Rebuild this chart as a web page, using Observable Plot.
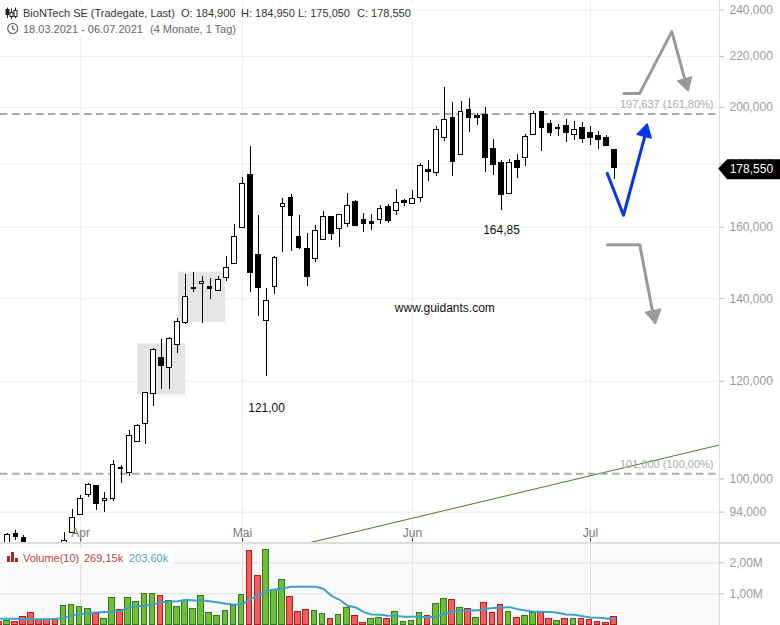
<!DOCTYPE html>
<html><head><meta charset="utf-8">
<script src="https://cdn.jsdelivr.net/npm/d3@7"></script>
<script src="https://cdn.jsdelivr.net/npm/@observablehq/plot@0.6"></script>
<style>
html,body{margin:0;padding:0;background:#fff;overflow:hidden}
#page{position:relative;width:780px;height:625px;font-family:"Liberation Sans",Arial,sans-serif}
#page svg{display:block}
#vol{border-top:2px solid #ddd;height:81px}
.h{position:absolute;font-size:11px;line-height:14px;white-space:pre;background:#fff}
.box{position:absolute;background:#fff}
</style></head><body>
<div id="page">
<div id="main"></div>
<div id="vol"></div>
<div class="box" style="left:0;top:5px;width:414px;height:16px"></div>
<div class="box" style="left:0;top:21px;width:240px;height:16px"></div>
<svg style="position:absolute;left:5px;top:7px" width="14" height="13" stroke="#222" fill="none">
<path d="M2.5 0.5V11M6.5 1.5V12M10.5 0.5V11"/><rect x="1" y="2.5" width="3" height="5" fill="#222"/><rect x="5" y="5.5" width="3" height="4" fill="#fff"/><rect x="9" y="3.5" width="3" height="6" fill="#fff"/></svg>
<svg style="position:absolute;left:6px;top:22px" width="14" height="14" stroke="#555" fill="none" stroke-width="1.1">
<circle cx="6.7" cy="6.5" r="5"/><path d="M6.7 3.2V6.7L9 8"/></svg>
<span class="h" style="left:23px;top:6px;color:#333">BioNTech SE (Tradegate, Last)</span>
<span class="h" style="left:181px;top:6px;color:#333">O: 184,900</span>
<span class="h" style="left:241px;top:6px;color:#333">H: 184,950</span>
<span class="h" style="left:298px;top:6px;color:#333">L: 175,050</span>
<span class="h" style="left:357px;top:6px;color:#333">C: 178,550</span>
<span class="h" style="left:23px;top:22px;color:#666">18.03.2021 - 06.07.2021</span>
<span class="h" style="left:150px;top:22px;color:#666">(4 Monate, 1 Tag)</span>
<div class="box" style="left:5px;top:548px;width:169px;height:17px;opacity:.85"></div>
<svg style="position:absolute;left:7px;top:552px" width="12" height="11" fill="#b22222"><rect x="0" y="4" width="3" height="6"/><rect x="4" y="0" width="3" height="10"/><rect x="8" y="6" width="3" height="4"/></svg>
<span class="h" style="left:23px;top:551px;color:#c43c3c;background:none">Volume(10)</span>
<span class="h" style="left:84px;top:551px;color:#c43c3c;background:none">269,15k</span>
<span class="h" style="left:129px;top:551px;color:#45a5cc;background:none">203,60k</span>
</div>
<script>
// session index 0 = 18.03.2021 ... 76 = 06.07.2021
const opens = [87,86,90.2,89.5,87,86,85.5,85,86,90.4,93.5,97.0,98.7,95.9,96.4,102.1,101.1,107.2,110.9,117.1,125.3,123.1,128.4,133.9,142.9,143.8,143.1,141.9,145.5,149.3,159.9,176.5,151.9,134.4,143.0,166.0,169.0,157.1,153.6,150.9,156.1,163.1,159.4,160.8,167.7,162.2,161.6,162.1,166.2,164.8,168.1,167.0,169.1,178.1,177.0,188.9,196.0,183.0,199.3,196.8,197.3,185.3,180.2,170.3,181.2,181.9,190.0,198.4,193.8,192.7,193.1,190.1,192.7,190.6,189.8,189.1,184.9];
const highs = [88,90.4,90.9,90.0,88,87,86.5,86,90.5,94.4,96.9,99.2,98.7,97.5,103.6,102.5,109.4,110.8,117.4,127.6,129.8,130.3,134.8,146.4,146.9,145.8,145.3,145.8,151.6,160.7,175.5,186.0,163.4,142.6,151.4,168.7,170.0,163.4,158.0,160.4,164.7,163.1,163.7,170.3,168.1,164.1,163.8,166.5,166.8,171.6,168.4,171.3,180.2,181.2,193.1,207.7,201.9,202.3,203.4,197.8,200.0,188.4,181.2,181.5,183.2,190.2,198.4,198.6,195.3,193.8,195.6,194.9,194.5,193.1,191.3,189.8,184.95];
const lows = [85,85,89.2,86,85,84.5,84,83.5,85.5,90.4,93.5,96.6,94.2,94.0,95.8,99.1,100.4,107.2,106.6,114.5,118.1,118.1,126.4,133.4,141.6,133.7,139.7,141.9,144.5,149.3,159.9,141.6,135.4,121.0,141.0,152.6,152.9,153.6,143.2,149.9,156.1,156.2,153.9,159.8,160.4,158.3,158.9,160.7,161.0,163.4,166.2,167.0,167.5,174.2,175.8,187.7,175.8,183.0,190.9,193.4,177.1,176.1,165.0,170.3,175.1,179.2,190.0,184.4,189.4,189.4,187.4,188.1,187.0,186.3,184.9,186.3,175.05];
const closes = [86,90.0,89.8,87,85.5,85,84.8,84.5,89.1,93.0,96.3,98.8,95.4,96.3,102.6,101.8,108.3,110.3,117.4,127.1,123.5,129.8,134.0,140.4,142.6,144.4,142.6,144.9,148.2,157.0,173.4,147.0,142.7,139.4,151.1,167.0,163.4,153.9,145.8,158.8,163.0,158.1,163.7,166.4,160.4,161.0,161.0,165.5,161.9,167.4,167.5,168.6,179.4,177.5,191.9,195.5,180.8,198.4,196.3,196.1,182.2,179.8,170.0,180.5,178.8,189.4,197.8,192.7,190.9,192.0,190.9,191.9,188.8,189.1,188.4,186.3,178.55];
const volumes = [.086,.129,.097,.258,.387,.161,.161,.161,.613,.645,.581,.516,.355,.194,.871,.484,.871,.742,1.0,1.0,.935,.774,.581,.774,.516,.935,.387,.29,.452,.613,.968,2.387,1.581,2.419,1.129,1.452,.903,.419,.484,.452,.355,.194,.323,.548,.29,.065,.194,.226,.194,.419,.097,.129,.387,.29,.677,.839,.806,.548,.516,.226,.71,.387,.645,.419,.226,.29,.387,.387,.194,.129,.194,.194,.194,.161,.097,.065,.258];
const volumeSide = "rgrrrrrrggggrggrggggrggggggggggrrgggrrrggrggrrggrggggrggrgrgrrrgrggrrgrgrrrrr".split("");
const volumeAvg = [.194,.194,.194,.183,.183,.183,.183,.194,.215,.312,.344,.376,.398,.409,.419,.452,.559,.602,.613,.667,.731,.753,.763,.806,.785,.785,.763,.72,.677,.645,.667,.828,.946,1.086,1.14,1.172,1.226,1.226,1.226,1.226,1.161,.935,.806,.613,.559,.409,.333,.323,.29,.28,.258,.258,.258,.247,.269,.355,.419,.452,.473,.462,.516,.538,.548,.57,.505,.462,.419,.419,.409,.387,.333,.323,.28,.237,.226,.204,.183];
const monthTicks = [10,30,51,73];
const monthLabels = ["Apr","Mai","Jun","Jul"];
const priceTicks = [94,100,120,140,160,180,200,220,240];
const fibLevels = [197.637,101];
const fibLabels = ["197,637 (161,80%)","101,000 (100,00%)"];
const trendSession = [38.03,88.94], trendPrice = [88.7,106.55];
const boxSession1 = [17.03,22.96], boxPrice1 = [117.0,128.7];
const boxSession2 = [22.09,27.9], boxPrice2 = [134.0,147.1];
const upSession = [77.12,79.06,83.05,84.95], upPrice = [205.3,205.3,230.5,207.4];
const upHeadS = [85.07,83.79,85.48], upHeadP = [206.4,210.2,211.8];
const blueSession = [75.07,77.08,79.92], bluePrice = [176.9,163.6,191.8];
const blueHeadS = [80.0,78.77,80.5], blueHeadP = [194.0,190.3,189.0];
const downSession = [75.1,79.09,80.91], downPrice = [154.8,154.8,134.1];
const downHeadS = [81.03,79.8,81.65], downHeadP = [133.7,136.5,137.3];
const tagS = [88.9,89.93,96.48,96.48,89.93], tagP = [178.55,181.4,181.4,175.2,175.2];

const idx = opens.map((_, i) => i);
const candles = idx.map(i => ({i, o: opens[i], h: highs[i], l: lows[i], c: closes[i], v: volumes[i], up: volumeSide[i] === "g", a: volumeAvg[i]}));
const pts = (s, p) => s.map((x, i) => ({x, y: p[i]}));
const priceFmt = d => d3.format(".3f")(d).replace(".", ",");
const xDomain = [0.0989, 88.94];
const halfBody = 0.29;

const main = Plot.plot({
  width: 780, height: 542, marginLeft: 0, marginRight: 61, marginTop: 0, marginBottom: 0,
  style: {fontFamily: "Liberation Sans, Arial, sans-serif", fontSize: "12px", background: "transparent"},
  x: {domain: xDomain, axis: null},
  y: {type: "log", domain: [88.9, 244.5], range: [541.5, -0.5], axis: null},
  marks: [
    Plot.ruleY(priceTicks, {stroke: "#eee"}),
    Plot.ruleX(monthTicks, {stroke: "#eee"}),
    Plot.rect([0], {x1: boxSession1[0], x2: boxSession1[1], y1: boxPrice1[0], y2: boxPrice1[1], fill: "#e5e5e5"}),
    Plot.rect([0], {x1: boxSession2[0], x2: boxSession2[1], y1: boxPrice2[0], y2: boxPrice2[1], fill: "#e5e5e5"}),
    Plot.ruleX([xDomain[1]], {stroke: "#ddd"}),
    Plot.axisY({anchor: "right", ticks: priceTicks, tickFormat: priceFmt, tickSize: 4, tickPadding: 6, color: "#999", stroke: "#bbb", fontSize: 12, label: null}),
    Plot.line(pts(trendSession, trendPrice), {x: "x", y: "y", stroke: "#4b7a2c", strokeWidth: 1, clip: true}),
    Plot.ruleY(fibLevels, {stroke: "#aaa", strokeWidth: 2, strokeDasharray: "7.5,4.5"}),
    Plot.text(fibLabels, {x: () => 88.2, y: (d, i) => fibLevels[i], text: d => d, textAnchor: "end", dy: -9.5, fill: "#aaa", fontSize: 11}),
    Plot.ruleX(candles, {x: "i", y1: "l", y2: "h", stroke: "#000", strokeWidth: 1, shapeRendering: "crispEdges", clip: true}),
    Plot.rect(candles, {x1: d => d.i - halfBody, x2: d => d.i + halfBody, y1: "o", y2: "c", fill: d => d.c >= d.o ? "#fff" : "#000", stroke: "#000", strokeWidth: 1, shapeRendering: "crispEdges", clip: true}),
    Plot.ruleX(monthTicks, {y1: 88.9, y2: 89.5, stroke: "#333"}),
    Plot.text(monthLabels, {x: (d, i) => monthTicks[i], frameAnchor: "bottom", lineAnchor: "bottom", dy: -6, text: d => d, fill: "#777", fontSize: 12}),
    Plot.text(["121,00"], {x: () => 32.98, y: () => 114.2, text: d => d, fill: "#111", fontSize: 12}),
    Plot.text(["164,85"], {x: () => 62.0, y: () => 159.1, text: d => d, fill: "#111", fontSize: 12}),
    Plot.text(["www.guidants.com"], {x: () => 55.0, y: () => 137.5, text: d => d, fill: "#111", fontSize: 12}),
    Plot.line(pts(upSession, upPrice), {x: "x", y: "y", stroke: "#999", strokeWidth: 3}),
    Plot.line(pts(upHeadS, upHeadP), {x: "x", y: "y", fill: "#999", stroke: "#999", curve: "linear-closed"}),
    Plot.line(pts(downSession, downPrice), {x: "x", y: "y", stroke: "#999", strokeWidth: 3}),
    Plot.line(pts(downHeadS, downHeadP), {x: "x", y: "y", fill: "#999", stroke: "#999", curve: "linear-closed"}),
    Plot.line(pts(blueSession, bluePrice), {x: "x", y: "y", stroke: "#0a32ff", strokeWidth: 3}),
    Plot.line(pts(blueHeadS, blueHeadP), {x: "x", y: "y", fill: "#0a32ff", stroke: "#0a32ff", curve: "linear-closed"}),
    Plot.line(pts(tagS, tagP), {x: "x", y: "y", fill: "#000", stroke: "#000", curve: "linear-closed"}),
    Plot.text(["178,550"], {x: () => 90.2, y: () => 178.4, text: d => d, textAnchor: "start", fill: "#fff", fontSize: 12})
  ]
});
document.getElementById("main").append(main);

const vol = Plot.plot({
  width: 780, height: 81, marginLeft: 0, marginRight: 61, marginTop: 0, marginBottom: 0,
  style: {fontFamily: "Liberation Sans, Arial, sans-serif", fontSize: "12px", background: "transparent"},
  x: {domain: xDomain, axis: null},
  y: {domain: [-0.0226, 2.59], range: [81, 0], axis: null},
  marks: [
    Plot.frame({fill: "#fafafa", stroke: null}),
    Plot.ruleY([1, 2], {stroke: "#e0e0e0"}),
    Plot.ruleX(monthTicks, {stroke: "#e0e0e0"}),
    Plot.ruleX([xDomain[1]], {stroke: "#ddd"}),
    Plot.axisY({anchor: "right", ticks: [1, 2], tickFormat: d => d3.format(".2f")(d).replace(".", ",") + "M", tickSize: 4, tickPadding: 6, color: "#999", stroke: "#bbb", fontSize: 12, label: null}),
    Plot.rect(candles, {x1: d => d.i - 0.12 - 0.35, x2: d => d.i - 0.12 + 0.35, y1: 0, y2: "v", fill: d => d.up ? "#6cc033" : "#f65c5c", stroke: d => d.up ? "#2b7d1b" : "#bb1a1a", strokeWidth: 1, shapeRendering: "crispEdges"}),
    Plot.line(candles, {x: "i", y: "a", stroke: "#3ba1cb", strokeWidth: 2})
  ]
});
document.getElementById("vol").append(vol);
</script>
</body></html>
